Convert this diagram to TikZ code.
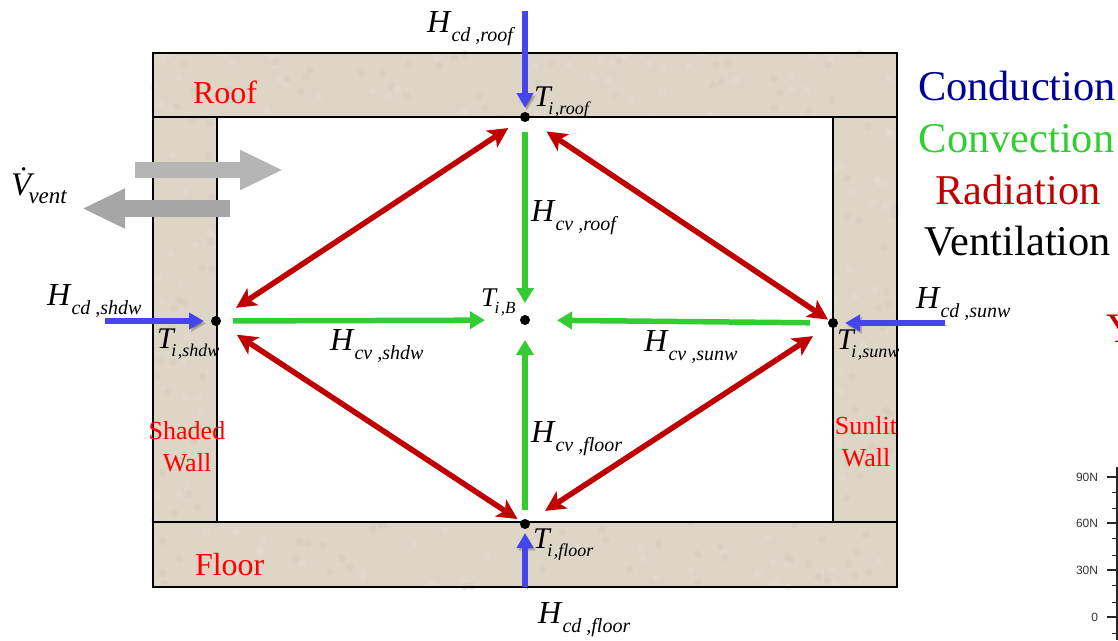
\documentclass[tikz,border=0pt]{standalone}
\usepackage{fontspec}
\setmainfont{Liberation Serif}
\newfontfamily\axisfont{Liberation Sans}
\usepackage{tikz}
\usetikzlibrary{arrows.meta}
\definecolor{wallfill}{HTML}{DDD5C6}
\definecolor{cdblue}{HTML}{4545EE}
\definecolor{cvgreen}{HTML}{33CC33}
\definecolor{radred}{HTML}{C00000}
\definecolor{legendblue}{HTML}{000099}
\newcommand{\fluxlabel}[1]{\fontsize{32}{32}\selectfont\textit{H}\raisebox{-9pt}{\fontsize{20}{20}\selectfont\textit{#1}}}
\newcommand{\templabel}[1]{\fontsize{30}{30}\selectfont\textit{T}\kern-4pt\raisebox{-8pt}{\fontsize{18}{18}\selectfont\textit{i\kern1.5pt,#1}}}
\begin{document}
\begin{tikzpicture}[
            x=1pt, y=-1pt,
            every node/.style={inner sep=0pt, outer sep=0pt},
            wall/.style={draw=black, line width=2.5pt},
            tempdot/.style={circle, fill=black, minimum size=10pt},
            fluxtext/.style={anchor=base west, text=black},
            walltext/.style={anchor=base, text=red, font=\fontsize{26}{26}\selectfont},
            bandtext/.style={anchor=base west, text=red, font=\fontsize{32}{32}\selectfont},
            legendtext/.style={anchor=base, font=\fontsize{42.4}{42.4}\selectfont},
            softshadow/.style={preaction={draw=black, opacity=.2, transform canvas={shift={(2pt,-2.5pt)}}}},
            cond/.style={draw=cdblue, line width=5.5pt, -{Triangle[length=15pt,width=16pt]}, softshadow},
            conv/.style={draw=cvgreen, line width=5.5pt, -{Triangle[length=15pt,width=17pt]}},
            rad/.style={draw=radred, line width=5.5pt, {Stealth[length=20pt,width=20pt,inset=5pt]}-{Stealth[length=20pt,width=20pt,inset=5pt]}},
            ventout/.style={draw=black!29, line width=16pt, -{Triangle[length=43pt,width=37pt]}},
            ventin/.style={draw=black!35, line width=17pt, -{Triangle[length=43pt,width=37pt]}},
            latlabel/.style={anchor=east, text=black!80, font=\axisfont\fontsize{12}{12}\selectfont}
        ]
        \useasboundingbox (0,0) rectangle (1118,640);
        \fill[wallfill] (153,53) rectangle (897,587);
        \pgfmathsetseed{11}
        \foreach \c in {wallfill!70!white,wallfill!94!black}{
            \foreach \i in {1,...,350}{
                \pgfmathsetmacro{\sx}{153+744*rnd}
                \pgfmathsetmacro{\sy}{53+534*rnd}
                \fill[\c, opacity=.35] (\sx,\sy) circle (4pt);
            }
        }
        \fill[white] (217,117) rectangle (833,522);
        \draw[wall] (153,53) rectangle (897,587);
        \draw[wall] (153,117) -- (897,117);
        \draw[wall] (153,522) -- (897,522);
        \draw[wall] (217,117) -- (217,522);
        \draw[wall] (833,117) -- (833,522);

        \node[tempdot] (Troof) at (525,117) {};
        \node[tempdot] (Tshdw) at (216,321) {};
        \node[tempdot] (Tsunw) at (833,323) {};
        \node[tempdot] (Tfloor) at (525,524) {};
        \node[tempdot] (TB) at (525,320) {};

        \coordinate (cdroof) at (525,11);
        \coordinate (cdshdw) at (105,321);
        \coordinate (cdsunw) at (945,323);
        \coordinate (cdfloor) at (525,587);
        \coordinate (ventoutA) at (135,170);
        \coordinate (ventoutB) at (283,170);
        \coordinate (ventinA) at (230,208.5);
        \coordinate (ventinB) at (82,208.5);

        \draw[ventout] (ventoutA) -- (ventoutB);
        \draw[ventin] (ventinA) -- (ventinB);

        \draw[cond, shorten >=4pt] (cdroof) -- (Troof);
        \draw[cond, shorten >=7pt] (cdshdw) -- (Tshdw);
        \draw[cond, shorten >=7pt] (cdsunw) -- (Tsunw);
        \draw[cond, shorten >=4pt] (cdfloor) -- (Tfloor);

        \draw[conv, shorten <=10pt, shorten >=12pt] (Troof) -- (TB);
        \draw[conv, shorten <=12pt, shorten >=35pt] ([shift={(0,1)}]Tshdw) -- ([shift={(0,2)}]TB);
        \draw[conv, shorten <=18pt, shorten >=27pt] ([shift={(0,1)}]Tsunw) -- ([shift={(0,4)}]TB);
        \draw[conv, shorten <=9pt, shorten >=15pt] (Tfloor) -- (TB);

        \draw[rad, shorten <=15pt, shorten >=19pt] ([shift={(0,5)}]Troof) -- ([shift={(0,2)}]Tshdw);
        \draw[rad, shorten <=21pt, shorten >=1pt] ([shift={(0,-4)}]Troof) -- ([shift={(0,-4)}]Tsunw);
        \draw[rad, shorten <=20pt, shorten >=4pt] ([shift={(0,1)}]Tshdw) -- ([shift={(0,-5)}]Tfloor);
        \draw[rad, shorten <=19pt, shorten >=19pt] ([shift={(0,2)}]Tsunw) -- ([shift={(0,3)}]Tfloor);

        \node[fluxtext] (Hcdroof) at (427,32) {\fluxlabel{cd ,roof}};
        \node[fluxtext] (Hcdshdw) at (47,305) {\fluxlabel{cd ,shdw}};
        \node[fluxtext] (Hcdsunw) at (916,308) {\fluxlabel{cd ,sunw}};
        \node[fluxtext] (Hcdfloor) at (538,623) {\fluxlabel{cd ,floor}};
        \node[fluxtext] (Hcvroof) at (531,221) {\fluxlabel{cv ,roof}};
        \node[fluxtext] (Hcvshdw) at (330,350) {\fluxlabel{cv ,shdw}};
        \node[fluxtext] (Hcvsunw) at (644,351) {\fluxlabel{cv ,sunw}};
        \node[fluxtext] (Hcvfloor) at (531,442) {\fluxlabel{cv ,floor}};
        \node[fluxtext] (Troofl) at (534,106) {\templabel{roof}};
        \node[fluxtext] (Tshdwl) at (157,348) {\templabel{shdw}};
        \node[fluxtext] (Tsunwl) at (837,349) {\templabel{sunw}};
        \node[fluxtext] (Tfloorl) at (533,548) {\templabel{floor}};
        \node[fluxtext] (TBl) at (481,306) {\fontsize{27}{27}\selectfont\textit{T}\kern-3pt\raisebox{-7pt}{\fontsize{17}{17}\selectfont\textit{i\kern1.5pt,B}}};
        \node[fluxtext] (Vvent) at (11,195) {\fontsize{33}{33}\selectfont\textit{\.V}\kern-12pt\raisebox{-8pt}{\fontsize{23}{23}\selectfont\textit{vent}}};

        \node[bandtext] (roofl) at (193,103) {Roof};
        \node[bandtext] (floorl) at (195,575) {Floor};
        \node[walltext] (shaded) at (187,439) {Shaded};
        \node[walltext] (shadedw) at (187,471) {Wall};
        \node[walltext] (sunlit) at (866,434) {Sunlit};
        \node[walltext] (sunlitw) at (866,466) {Wall};

        \node[legendtext, text=legendblue] (lgcond) at (1017,100) {Conduction};
        \node[legendtext, text=cvgreen] (lgconv) at (1016.5,152) {Convection};
        \node[legendtext, text=radred] (lgrad) at (1018,204) {Radiation};
        \node[legendtext, text=black] (lgvent) at (1018,255) {Ventilation};

        \node[anchor=base west, text=radred, font=\fontsize{42}{42}\selectfont] (yaxis) at (1106,342) {Y};

        \draw[black!85, line width=1.3pt] (1117,467) -- (1117,640);
        \foreach \y/\t/\n in {477/90N/a,523/60N/b,570/30N/c,617/0/d}{
            \draw[black!85, line width=1.2pt] (1107,\y) -- (1117,\y);
            \node[latlabel] (lat\n) at (1098,\y) {\t};
        }
        \foreach \y in {492,508,538,555,585,602,633}{
            \draw[black!85, line width=0.9pt] (1112,\y) -- (1117,\y);
        }
    \end{tikzpicture}
\end{document}
